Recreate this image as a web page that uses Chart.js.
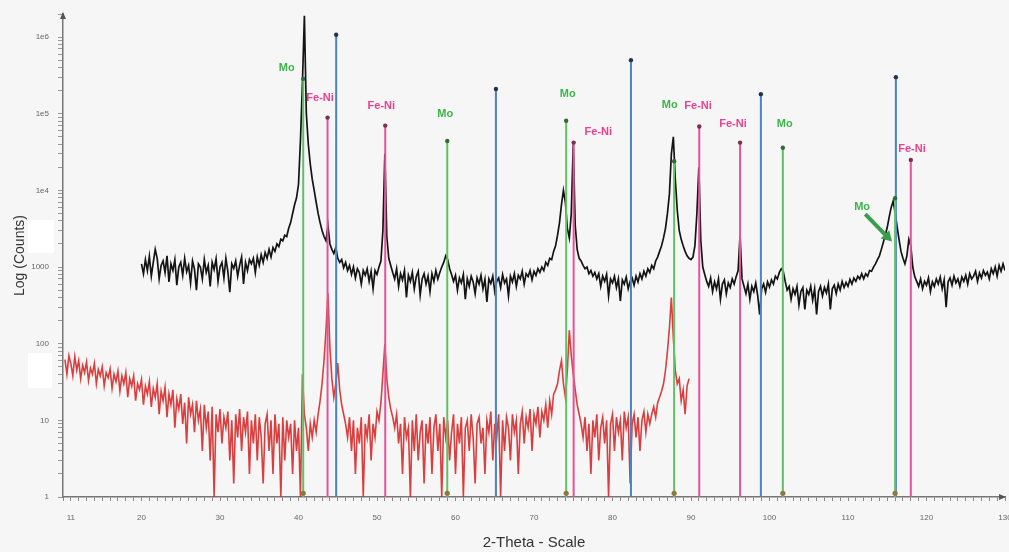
<!DOCTYPE html>
<html>
<head>
<meta charset="utf-8">
<title>XRD pattern</title>
<script src="https://cdn.jsdelivr.net/npm/chart.js@4.4.0/dist/chart.umd.min.js"></script>
<style>
  html, body { margin: 0; padding: 0; background: #f6f6f6; }
  #wrap { width: 1009px; height: 552px; }
</style>
</head>
<body>
<div id="wrap"><canvas id="xrd" width="1009" height="552"></canvas></div>
<script>
// scan grid (2-theta, degrees)
const SCAN_STEP = 0.25;
const RED_START = 10.25;
const BLACK_START = 20;

// red scan, counts
const RED_COUNTS = [
  62, 40, 70,
  55, 38, 68, 45, 60, 35, 52, 42,      // 11
  58, 33, 48, 40, 55, 30, 46, 38,      // 13
  50, 28, 42, 36, 47, 26, 40, 32,      // 15
  44, 24, 38, 30, 42, 20, 35, 28,      // 17
  38, 18, 30, 25, 34, 16, 28, 22,      // 19
  32, 15, 26, 20, 30, 12, 24, 18,      // 21
  27, 11, 22, 16, 25, 8, 19, 14,       // 23
  22, 9, 17, 5, 20, 12, 16, 7,         // 25
  18, 10, 14, 4, 16, 8, 13, 3,         // 27
  15, 1, 12, 7, 14, 5, 11, 8,          // 29
  13, 3, 10, 1.5, 12, 6, 14, 4,        // 31
  11, 7, 13, 2, 10, 5, 12, 3,          // 33
  11, 6, 1.5, 9, 12, 4, 10, 2,         // 35
  12, 5, 9, 1, 11, 3, 10, 6,           // 37
  9, 2, 10, 4, 8, 1, 40, 12,           // 39
  8, 4, 9, 6, 10, 7, 12, 18,           // 41
  30, 60, 150, 450, 90, 35, 20, 30,    // 43
  56, 25, 16, 12, 9, 6, 11, 4,         // 45
  10, 2, 8, 5, 11, 1, 9, 6,            // 47
  12, 3, 9, 6, 13, 10, 17, 40,         // 49
  100, 35, 20, 14, 11, 8, 12, 5,       // 51
  9, 2, 11, 6, 8, 1, 10, 4,            // 53
  12, 3, 7, 10, 1.5, 9, 5, 11,         // 55
  2, 8, 12, 4, 9, 1, 11, 6,            // 57
  10, 3, 7, 12, 2, 9, 5, 11,           // 59
  1, 8, 10, 4, 12, 6, 1.5, 9,          // 61
  11, 5, 8, 2, 10, 7, 13, 3,           // 63
  9, 6, 12, 1, 10, 4, 11, 8,           // 65
  3, 12, 7, 10, 2, 9, 13, 5,           // 67
  11, 8, 14, 4, 12, 9, 15, 6,          // 69
  13, 10, 16, 8, 18, 12, 22, 25,       // 71
  30, 45, 60, 30, 20, 45, 150, 70,     // 73
  40, 25, 16, 12, 9, 6, 11, 4,         // 75
  9, 2, 10, 6, 12, 3, 8, 11,           // 77
  5, 10, 1, 9, 12, 4, 11, 7,           // 79
  10, 3, 13, 8, 11, 1.5, 9, 12,        // 81
  6, 11, 4, 10, 13, 7, 12, 9,          // 83
  12, 15, 11, 17, 20, 24, 30, 45,      // 85
  80, 160, 400, 120, 45, 30, 35, 18,   // 87
  25, 12, 28, 35                       // 89
];

// black scan
const BLACK_COUNTS = [
  1100, 820, 1250, 900, 1380, 760, 1150, 1700,            // 20
  1300, 700, 1050, 1200, 850, 1400, 640, 1100,            // 22
  900, 1250, 580, 1000, 1150, 780, 1300, 870,             // 24
  1050, 620, 1200, 940, 500, 1100, 1000, 700,             // 26
  1250, 850, 1050, 560, 1150, 930, 1280, 650,             // 28
  1000, 1150, 720, 1300, 880, 470, 1100, 960,             // 30
  1200, 760, 1050, 1350, 600, 1150, 900, 1250,            // 32
  1100, 1300, 850, 1350, 1050, 1450, 1150, 1550,          // 34
  1300, 1700, 1350, 1800, 1600, 2000, 1850, 2300,         // 36
  2200, 2600, 2500, 3200, 3800, 5000, 6500, 8000,         // 38
  12000, 45000, 250000, 1900000, 100000, 40000, 22000, 14000, // 40
  10000, 7000, 5000, 3800, 3000, 2500, 2200, 3500,        // 42
  2000, 1700, 1500, 1800, 1300, 1150, 1250, 980,          // 44
  1150, 900, 1050, 800, 1000, 720, 950, 850,              // 46
  600, 900, 780, 950, 650, 880, 520, 900,                 // 48
  800, 1000, 1200, 3000, 30000, 2500, 1300, 1050,         // 50
  850, 700, 950, 560, 820, 680, 900, 400,                 // 52
  780, 650, 850, 520, 750, 880, 430, 700,                 // 54
  820, 600, 760, 480, 820, 650, 900, 700,                 // 56
  850, 1000, 1150, 1400, 1250, 950, 800, 650,             // 58
  780, 500, 720, 620, 800, 380, 700, 560,                 // 60
  760, 640, 450, 720, 600, 780, 520, 690,                 // 62
  350, 700, 610, 760, 480, 650, 720, 540,                 // 64
  800, 620, 700, 420, 760, 640, 820, 560,                 // 66
  780, 700, 880, 600, 820, 750, 900, 680,                 // 68
  880, 780, 950, 850, 1000, 900, 1150, 1050,              // 70
  1300, 1250, 1600, 1900, 2600, 3800, 6500, 10000,        // 72
  7000, 3200, 2400, 5000, 40000, 3500, 1700, 1300,        // 74
  1200, 1050, 950, 1000, 820, 900, 760, 850,              // 76
  700, 820, 560, 760, 650, 800, 420, 700,                 // 78
  620, 760, 540, 700, 360, 680, 600, 740,                 // 80
  520, 650, 720, 580, 760, 640, 820, 700,                 // 82
  880, 760, 950, 850, 1050, 950, 1200, 1350,              // 84
  1600, 1900, 2400, 3200, 5000, 9000, 30000, 50000,       // 86
  14000, 5500, 3000, 2300, 1900, 1600, 1400, 1300,        // 88
  1250, 1350, 1900, 5000, 20000, 2200, 1000, 800,         // 90
  650, 560, 720, 480, 640, 520, 700, 380,                 // 92
  600, 680, 450, 620, 540, 700, 600, 750,                 // 94
  900, 2600, 700, 560, 450, 600, 380, 560,                // 96
  480, 620, 420, 240, 520, 600, 470, 640,                 // 98
  550, 680, 600, 760, 700, 850, 950, 880,                 // 100
  650, 500, 560, 380, 520, 440, 560, 320,                 // 102
  480, 540, 280, 500, 440, 560, 370, 520,                 // 104
  240, 480, 560, 420, 540, 460, 600, 280,                 // 106
  520, 580, 450, 600, 500, 650, 540, 630,                 // 108
  560, 690, 600, 720, 650, 760, 700, 820,                 // 110
  700, 820, 760, 900, 880, 1000, 1100, 1250,              // 112
  1400, 1700, 2100, 2600, 3300, 4500, 6000, 7200,         // 114
  5200, 3400, 2300, 1600, 1300, 1100, 1400, 2300,         // 116
  1900, 1000, 750, 650, 560, 700, 520, 650,               // 118
  580, 720, 480, 640, 560, 700, 600, 740,                 // 120
  520, 680, 300, 640, 720, 580, 760, 620,                 // 122
  700, 560, 740, 650, 780, 600, 820, 700,                 // 124
  760, 880, 650, 840, 720, 900, 780, 860,                 // 126
  700, 950, 820, 1000, 760, 1050, 880, 1100,              // 128
  900                                                     // 130
];

// reference sticks
const MO_POS = [40.6, 58.95, 74.1, 87.85, 101.7, 116.0];
const MO_TOP = [285000, 44000, 81000, 24000, 36000, 7900];
const FENI_POS = [43.7, 51.05, 75.05, 91.05, 96.25, 118.0];
const FENI_TOP = [89000, 70000, 42000, 68000, 42000, 25000];
const REF_POS = [44.8, 65.15, 82.35, 98.9, 116.1];
const REF_TOP = [1070000, 210000, 500000, 180000, 300000];

// annotation anchors (data units)
const MO_LABEL_X = [38.5, 58.7, 74.3, 87.3, 101.95, 111.8];
const MO_LABEL_Y = [400000, 100000, 180000, 130000, 74000, 6000];
const FENI_LABEL_X = [42.75, 50.55, 78.2, 90.9, 95.35, 118.15];
const FENI_LABEL_Y = [160000, 127000, 58000, 127000, 74000, 35000];
const MO_ARROW = [[112.2, 4900], [115.6, 2150]];

const X_LABELS = [11, 20, 30, 40, 50, 60, 70, 80, 90, 100, 110, 120, 130];
const Y_TICK_VALUES = [1, 10, 100, 1000, 1e4, 1e5, 1e6];
const Y_TICK_TEXT = ['1', '10', '100', '1000', '1e4', '1e5', '1e6'];

const GREEN = '#62c064', PINK = '#e2559b', BLUE = '#4b82c3';

Chart.defaults.font.family = "'Liberation Sans', Arial, sans-serif";

const toPoints = (start, arr) => arr.map((v, i) => ({ x: start + i * SCAN_STEP, y: v }));
const sticks = (pos, top) => pos.flatMap((p, i) => [{ x: p, y: 1 }, { x: p, y: top[i] }, { x: p, y: null }]);
const tops = (pos, top) => pos.map((p, i) => ({ x: p, y: top[i] }));

const stickSet = (pos, top, color, order) => ({
  data: sticks(pos, top), showLine: true, spanGaps: false,
  borderColor: color, borderWidth: 2, pointRadius: 0, order
});
const dotSet = (data, color, r) => ({
  data, showLine: false, pointRadius: r, pointBackgroundColor: color,
  pointBorderWidth: 0, order: 0
});

const paper = {
  id: 'paper',
  beforeDraw(chart) {
    const { ctx, width, height } = chart;
    ctx.save();
    ctx.fillStyle = '#f6f6f6';
    ctx.fillRect(0, 0, width, height);
    // blank patches on the scan
    ctx.fillStyle = '#ffffff';
    ctx.fillRect(28, 220, 26, 33);
    ctx.fillRect(28, 353, 24, 35);
    ctx.restore();
  },
  beforeDatasetsDraw(chart) {
    const { ctx, scales: { x, y } } = chart;
    ctx.save();
    ctx.font = "bold 11px 'Liberation Sans', Arial, sans-serif";
    ctx.textAlign = 'center';
    ctx.textBaseline = 'middle';
    ctx.fillStyle = '#3cb44b';
    MO_LABEL_X.forEach((v, i) => ctx.fillText('Mo', x.getPixelForValue(v), y.getPixelForValue(MO_LABEL_Y[i])));
    ctx.fillStyle = '#ec3f8f';
    FENI_LABEL_X.forEach((v, i) => ctx.fillText('Fe-Ni', x.getPixelForValue(v), y.getPixelForValue(FENI_LABEL_Y[i])));
    ctx.restore();
  },
  afterDraw(chart) {
    const { ctx, chartArea: a, scales: { x, y } } = chart;
    ctx.save();
    // axis arrow heads
    ctx.fillStyle = '#555';
    ctx.beginPath();
    ctx.moveTo(a.left, a.top - 2); ctx.lineTo(a.left - 3, a.top + 5); ctx.lineTo(a.left + 3, a.top + 5);
    ctx.fill();
    ctx.beginPath();
    ctx.moveTo(a.right + 1, a.bottom); ctx.lineTo(a.right - 6, a.bottom - 3); ctx.lineTo(a.right - 6, a.bottom + 3);
    ctx.fill();
    // arrow to the small Mo peak
    const x0 = x.getPixelForValue(MO_ARROW[0][0]), y0 = y.getPixelForValue(MO_ARROW[0][1]);
    const x1 = x.getPixelForValue(MO_ARROW[1][0]), y1 = y.getPixelForValue(MO_ARROW[1][1]);
    const ang = Math.atan2(y1 - y0, x1 - x0);
    ctx.strokeStyle = '#3a9d4a';
    ctx.fillStyle = '#3a9d4a';
    ctx.lineWidth = 4;
    ctx.beginPath();
    ctx.moveTo(x0, y0);
    ctx.lineTo(x1 - 7 * Math.cos(ang), y1 - 7 * Math.sin(ang));
    ctx.stroke();
    ctx.beginPath();
    ctx.moveTo(x1, y1);
    ctx.lineTo(x1 - 10 * Math.cos(ang) + 6 * Math.sin(ang), y1 - 10 * Math.sin(ang) - 6 * Math.cos(ang));
    ctx.lineTo(x1 - 10 * Math.cos(ang) - 6 * Math.sin(ang), y1 - 10 * Math.sin(ang) + 6 * Math.cos(ang));
    ctx.fill();
    ctx.restore();
  }
};

new Chart(document.getElementById('xrd'), {
  type: 'scatter',
  data: {
    datasets: [
      dotSet(tops(MO_POS, MO_TOP), '#2f6b36', 2.2),
      dotSet(tops(FENI_POS, FENI_TOP), '#7a2f55', 2.2),
      dotSet(tops(REF_POS, REF_TOP), '#23344f', 2.2),
      dotSet(MO_POS.map(p => ({ x: p, y: 1.12 })), '#8c7a3c', 2.6),
      stickSet(MO_POS, MO_TOP, GREEN, 1),
      stickSet(FENI_POS, FENI_TOP, PINK, 2),
      stickSet(REF_POS, REF_TOP, BLUE, 3),
      {
        label: 'black', data: toPoints(BLACK_START, BLACK_COUNTS), showLine: true,
        borderColor: '#141414', borderWidth: 1.7, pointRadius: 0, tension: 0, order: 5
      },
      {
        label: 'red', data: toPoints(RED_START, RED_COUNTS), showLine: true,
        borderColor: 'rgba(214,38,38,0.88)', borderWidth: 1.6, pointRadius: 0, tension: 0, order: 6
      }
    ]
  },
  options: {
    responsive: false,
    animation: false,
    events: [],
    layout: { padding: { top: 14, right: 4, left: 0, bottom: 0 } },
    plugins: { legend: { display: false }, tooltip: { enabled: false } },
    scales: {
      x: {
        type: 'linear', min: 10, max: 130,
        border: { color: '#777', width: 1.5 },
        grid: { drawOnChartArea: false, drawTicks: true, tickLength: 4, tickColor: '#888' },
        ticks: {
          stepSize: 1, autoSkip: false, maxRotation: 0, padding: 12,
          color: '#666', font: { size: 8 },
          callback: v => X_LABELS.includes(v) ? String(v) : ''
        },
        title: { display: true, text: '2-Theta - Scale', color: '#333', font: { size: 15 }, padding: { top: 0, bottom: 0 } },
        afterFit: s => { s.height = 55; s.paddingLeft = 0; s.paddingRight = 0; }
      },
      y: {
        type: 'logarithmic', min: 1, max: 2e6,
        border: { color: '#777', width: 1.5 },
        grid: { drawOnChartArea: false, drawTicks: true, tickLength: 5, tickColor: '#999' },
        ticks: {
          autoSkip: false, padding: 9, color: '#666', font: { size: 8 },
          callback: v => {
            const i = Y_TICK_VALUES.findIndex(t => Math.abs(t - v) < t * 1e-6);
            return i >= 0 ? Y_TICK_TEXT[i] : '';
          }
        },
        afterBuildTicks: s => {
          s.ticks = s.ticks.filter(t => {
            const m = t.value / Math.pow(10, Math.floor(Math.log10(t.value) + 1e-9));
            return Math.abs(m - Math.round(m)) < 1e-6;
          });
        },
        title: { display: true, text: 'Log (Counts)', color: '#333', font: { size: 14 }, padding: { top: 12, bottom: 0 } },
        afterFit: s => { s.width = 63; s.paddingTop = 0; s.paddingBottom = 0; }
      }
    }
  },
  plugins: [paper]
});
</script>
</body>
</html>
